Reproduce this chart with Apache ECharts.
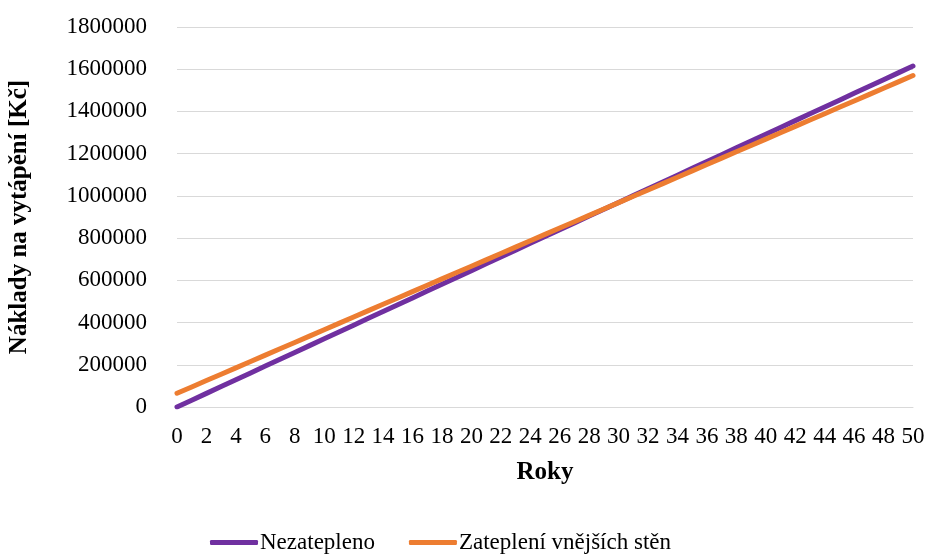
<!DOCTYPE html>
<html>
<head>
<meta charset="utf-8">
<script src="https://cdn.jsdelivr.net/npm/echarts@6/dist/echarts.min.js"></script>
<style>
html,body{margin:0;padding:0;background:#fff;}
#chart{width:928px;height:555px;}
</style>
</head>
<body>
<div id="chart"></div>
<script>
// roky 0..50
var years = [];
for (var i = 0; i <= 50; i++) { years.push(String(i)); }

var nezatepleno = [0, 32300, 64600, 96900, 129200, 161500, 193800, 226100, 258400, 290700,
	323000, 355300, 387600, 419900, 452200, 484500, 516800, 549100, 581400, 613700,
	646000, 678300, 710600, 742900, 775200, 807500, 839800, 872100, 904400, 936700,
	969000, 1001300, 1033600, 1065900, 1098200, 1130500, 1162800, 1195100, 1227400, 1259700,
	1292000, 1324300, 1356600, 1388900, 1421200, 1453500, 1485800, 1518100, 1550400, 1582700,
	1615000];

var zatepleni = [65000, 95100, 125200, 155300, 185400, 215500, 245600, 275700, 305800, 335900,
	366000, 396100, 426200, 456300, 486400, 516500, 546600, 576700, 606800, 636900,
	667000, 697100, 727200, 757300, 787400, 817500, 847600, 877700, 907800, 937900,
	968000, 998100, 1028200, 1058300, 1088400, 1118500, 1148600, 1178700, 1208800, 1238900,
	1269000, 1299100, 1329200, 1359300, 1389400, 1419500, 1449600, 1479700, 1509800, 1539900,
	1570000];

var font = '"Liberation Serif", "Times New Roman", serif';

var myChart = echarts.init(document.getElementById('chart'));
var option = {
	backgroundColor: '#fff',
	animation: false,
	textStyle: { fontFamily: font, color: '#000' },
	grid: { left: 177, right: 15, top: 27, bottom: 148, outerBoundsMode: 'none' },
	legend: {
		left: 205,
		top: 526,
		icon: 'roundRect',
		itemWidth: 48,
		itemHeight: 5,
		itemGap: 34,
		textStyle: { fontFamily: font, fontSize: 23, color: '#000', padding: [0, 0, 0, -3] },
		data: ['Nezatepleno', 'Zateplení vnějších stěn']
	},
	xAxis: {
		type: 'category',
		data: years,
		boundaryGap: false,
		name: 'Roky',
		nameLocation: 'middle',
		nameGap: 53,
		nameTextStyle: { fontFamily: font, fontSize: 25, fontWeight: 'bold', color: '#000' },
		axisLine: { lineStyle: { color: '#d9d9d9', width: 1 } },
		axisTick: { show: false },
		axisLabel: { interval: 1, fontFamily: font, fontSize: 23, color: '#000', margin: 18 },
		splitLine: { show: false }
	},
	yAxis: {
		type: 'value',
		min: 0,
		max: 1800000,
		interval: 200000,
		name: 'Náklady na vytápění [Kč]',
		nameLocation: 'middle',
		nameGap: 145,
		nameTextStyle: { fontFamily: font, fontSize: 25, fontWeight: 'bold', color: '#000' },
		axisLine: { show: false },
		axisTick: { show: false },
		axisLabel: {
			fontFamily: font, fontSize: 23, color: '#000', margin: 30,
			formatter: function (v) { return String(v); }
		},
		splitLine: { lineStyle: { color: '#d9d9d9', width: 1 } }
	},
	series: [{
		name: 'Nezatepleno',
		type: 'line',
		data: nezatepleno,
		symbol: 'none',
		color: '#7030A0',
		lineStyle: { width: 5, color: '#7030A0', cap: 'round' }
	}, {
		name: 'Zateplení vnějších stěn',
		type: 'line',
		data: zatepleni,
		symbol: 'none',
		color: '#ED7D31',
		lineStyle: { width: 5, color: '#ED7D31', cap: 'round' }
	}]
};
myChart.setOption(option);
</script>
</body>
</html>
